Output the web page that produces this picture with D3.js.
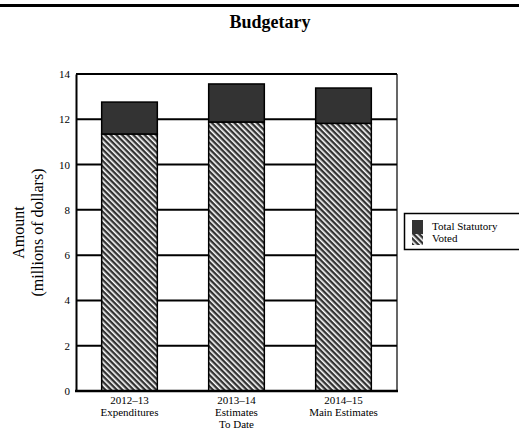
<!DOCTYPE html>
<html><head><meta charset="utf-8">
<script src="https://cdn.jsdelivr.net/npm/d3@7"></script>
<style>body{margin:0;background:#fff}svg{display:block}</style>
</head><body>
<script>
const categories = [["2012–13","Expenditures"],["2013–14","Estimates","To Date"],["2014–15","Main Estimates"]];
const voted = [11.35, 11.88, 11.82];
const statutory = [1.41, 1.68, 1.56];
const yTicks = [0,2,4,6,8,10,12,14];
const seriesNames = ["Total Statutory","Voted"];

const W=519,H=429;
const svg=d3.select("body").append("svg").attr("width",W).attr("height",H);
const defs=svg.append("defs");
const pat=defs.append("pattern").attr("id","hatch").attr("patternUnits","userSpaceOnUse")
  .attr("width",4).attr("height",4).attr("patternTransform","rotate(-45)");
pat.append("rect").attr("width",4).attr("height",4).attr("fill","#333");
pat.append("rect").attr("x",0).attr("width",1.6).attr("height",4).attr("fill","#fff");

svg.append("line").attr("x1",0).attr("x2",W).attr("y1",5.5).attr("y2",5.5).attr("stroke","#000").attr("stroke-width",3);
svg.append("text").attr("x",270).attr("y",28).attr("text-anchor","middle")
  .attr("font-family","Liberation Serif").attr("font-weight","bold").attr("font-size",18).text("Budgetary");

const L=76,R=397,T=74,B=391;
const x=d3.scaleBand().domain(d3.range(categories.length)).range([L,R]).paddingInner(0.48).paddingOuter(0.24);
const y=d3.scaleLinear().domain([0,14]).range([B,T]);

// gridlines
svg.append("g").selectAll("line").data(yTicks.filter(d=>d>0)).join("line")
  .attr("x1",L).attr("x2",R).attr("y1",d=>y(d)).attr("y2",d=>y(d)).attr("stroke","#000").attr("stroke-width",2);
svg.append("line").attr("x1",R).attr("x2",R).attr("y1",T).attr("y2",B).attr("stroke","#000").attr("stroke-width",1.2);

// bars
const g=svg.append("g");
g.selectAll(".v").data(voted).join("rect").attr("x",(d,i)=>x(i)).attr("width",x.bandwidth())
  .attr("y",d=>y(d)).attr("height",d=>y(0)-y(d)).attr("fill","url(#hatch)").attr("stroke","#000").attr("stroke-width",1.5);
g.selectAll(".s").data(statutory).join("rect").attr("x",(d,i)=>x(i)).attr("width",x.bandwidth())
  .attr("y",(d,i)=>y(voted[i]+d)).attr("height",(d,i)=>y(voted[i])-y(voted[i]+d)).attr("fill","#333").attr("stroke","#000").attr("stroke-width",1.5);

// axes
const ya=svg.append("g").attr("transform",`translate(${L},0)`).call(d3.axisLeft(y).tickValues(yTicks).tickSize(0).tickPadding(6));
ya.select(".domain").attr("stroke-width",2);
ya.selectAll("text").attr("font-family","Liberation Serif").attr("font-size",11).attr("fill","#000");
const xa=svg.append("g").attr("transform",`translate(0,${B})`).call(d3.axisBottom(x).tickSize(0).tickFormat(""));
xa.select(".domain").attr("stroke-width",2.5).attr("d",`M${L-1},0H${R+1}`);
xa.selectAll(".tick").each(function(d){
  const t=d3.select(this).append("text").attr("fill","#000").attr("font-family","Liberation Serif").attr("font-size",11).attr("text-anchor","middle").attr("y",13);
  categories[d].forEach((s,k)=>t.append("tspan").attr("x",0).attr("dy",k?12:0).text(s));
});

// y title
const yt=svg.append("text").attr("transform",`translate(0,${(T+B)/2}) rotate(-90)`).attr("text-anchor","middle")
  .attr("font-family","Liberation Serif").attr("font-size",16).attr("fill","#000");
yt.append("tspan").attr("x",0).attr("y",24).text("Amount");
yt.append("tspan").attr("x",0).attr("y",43).text("(millions of dollars)");

// legend
const lg=svg.append("g");
lg.append("rect").attr("x",404.5).attr("y",213.5).attr("width",130).attr("height",36).attr("fill","#fff").attr("stroke","#000").attr("stroke-width",1.5);
const fills=["#333","url(#hatch)"];
seriesNames.forEach((n,i)=>{
  lg.append("rect").attr("x",412).attr("y",i?234:220).attr("width",11).attr("height",i?11:14).attr("fill",fills[i]);
  lg.append("text").attr("x",432).attr("y",i?242:230).attr("font-family","Liberation Serif").attr("font-size",11).text(n);
});
</script>
</body></html>
